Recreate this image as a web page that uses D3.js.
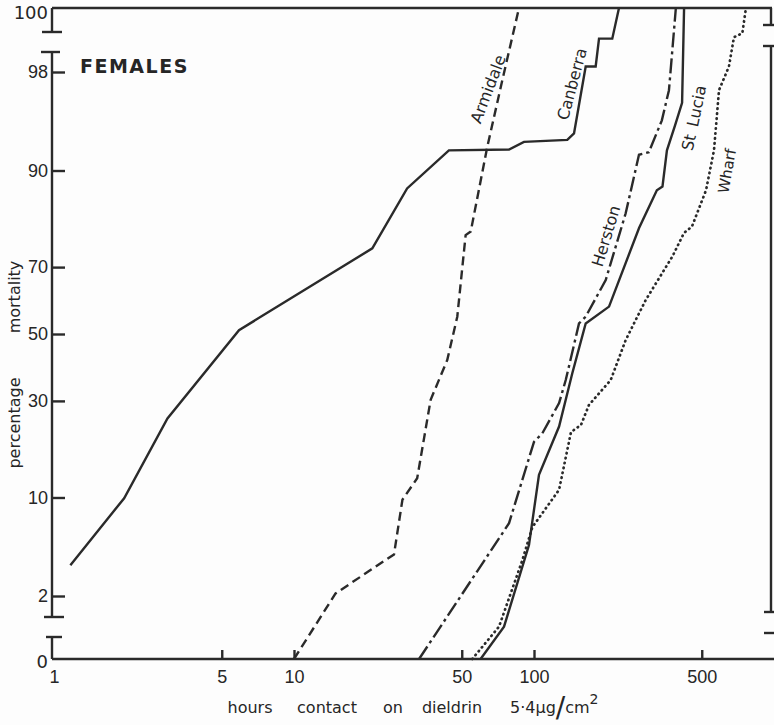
<!DOCTYPE html>
<html>
<head>
<meta charset="utf-8">
<script src="https://cdn.jsdelivr.net/npm/d3@7"></script>
<style>
  body { margin: 0; background: #fdfdfd; }
  svg { display: block; font-family: "DejaVu Sans", sans-serif; }
  .tick text { font-size: 18px; fill: #262626; }
  .tick line { stroke: #2a2a2a; stroke-width: 2.4; }
</style>
</head>
<body>
<svg id="chart" width="774" height="725"></svg>
<script>

// hours of contact vs percentage mortality
var canberra = [[1.17,3.5],[1.96,9.9],[2.97,25.4],[5.9,51.2],[21.2,74.9],[29.6,87.3],[44.2,92.5],
    [78.7,92.6],[90.8,93.4],[137.6,93.6],[146.8,94.2],[164.2,98.2],[180.7,98.2],[186.6,98.97],
    [211.9,98.97],[226,100]];
var armidale = [[10,0],[14.9,2.1],[26.1,4.2],[28.3,9.7],[32.6,12.9],[37.1,30.3],[43.5,41.9],
    [47.9,55.4],[51.9,78.1],[54.5,78.9],[63.9,92.9],[74.3,97.8],[86.6,100]];
var herston = [[33.2,0],[78.7,6.9],[100,19.9],[108.3,21.8],[127.2,29.4],[135.6,35.9],[154,53.3],
    [164.2,55.4],[199,66.4],[241,82.8],[273.8,92.0],[301,92.3],[341,95.3],[365,97.2],[376,98.6],[390,100]];
var stlucia = [[59.9,0],[75,1.09],[95.3,4.9],[104.9,13.5],[127.2,23.4],[144.4,37.9],[164.2,53.3],
    [205.4,58.5],[274,79.7],[325,87.0],[343,87.6],[358,92.5],[387,94.9],[414,96.5],[422,100]];
var wharf = [[55.3,0],[71.5,1.09],[89.4,3.8],[98.4,6.5],[127.2,11.1],[142.6,22.1],[157,23.8],
    [169.4,28.9],[208.7,35.9],[241,48.1],[292,60.5],[377,72.8],[421.7,78.6],[455,80.0],[520.8,87.0],
    [562.3,92.5],[590,97.2],[649,98.2],[681,99.0],[738,99.08],[764,100]];

var xTicks = [1, 5, 10, 50, 100, 500];
var yTicks = [2, 10, 30, 50, 70, 90, 98];

var svg = d3.select("#chart");

// inverse normal cdf (Acklam)
var probit = function(p){
    var a = [-39.6968302866538, 220.946098424521, -275.928510446969, 138.357751867269, -30.6647980661472, 2.50662827745924],
        b = [-54.4760987982241, 161.585836858041, -155.698979859887, 66.8013118877197, -13.2806815528857],
        c = [-0.00778489400243029, -0.322396458041136, -2.40075827716184, -2.54973253934373, 4.37466414146497, 2.93816398269878],
        d = [0.00778469570904146, 0.32246712907004, 2.445134137143, 3.75440866190742];
    var q, r;
    if (p < 0.02425) {
        q = Math.sqrt(-2 * Math.log(p));
        return (((((c[0]*q+c[1])*q+c[2])*q+c[3])*q+c[4])*q+c[5]) / ((((d[0]*q+d[1])*q+d[2])*q+d[3])*q+1);
    }
    if (p > 1 - 0.02425) {
        q = Math.sqrt(-2 * Math.log(1 - p));
        return -(((((c[0]*q+c[1])*q+c[2])*q+c[3])*q+c[4])*q+c[5]) / ((((d[0]*q+d[1])*q+d[2])*q+d[3])*q+1);
    }
    q = p - 0.5; r = q * q;
    return (((((a[0]*r+a[1])*r+a[2])*r+a[3])*r+a[4])*r+a[5])*q / (((((b[0]*r+b[1])*r+b[2])*r+b[3])*r+b[4])*r+1);
}

var axisX = 52, y0 = 659, y100 = 8;

var x = d3.scaleLog().domain([1, 1000]).range([54, 774]);
var z = d3.scaleLinear().domain([probit(0.02), probit(0.98)]).range([596, 72]);
var yPos = p => p <= 0 ? y0 : p >= 100 ? y100 : z(probit(p / 100));

var ink = "#2a2a2a";

// frame with the broken ends
var seg = function(x1, y1, x2, y2){
    svg.append("line").attr("x1", x1).attr("y1", y1).attr("x2", x2).attr("y2", y2)
        .attr("stroke", ink).attr("stroke-width", 2.4);
}
seg(axisX, y100, 772, y100);
seg(axisX, y100, axisX, 32);  seg(42, 32, 62, 32);
seg(41, 52, 60, 52);          seg(axisX, 52, axisX, 617);
seg(44, 617, 64, 617);        seg(46, 637, 62, 637);
seg(axisX, 637, axisX, y0);   seg(axisX, y0, 774, y0);
seg(771, y100, 771, 25);      seg(763, 25, 774, 25);
seg(763, 46, 774, 46);        seg(771, 46, 771, 612);
seg(764, 612, 774, 612);      seg(764, 633, 774, 633);

// axes
var gx = svg.append("g").attr("transform", "translate(0," + y0 + ")")
    .call(d3.axisBottom(x).tickValues(xTicks).tickFormat(d3.format("d")).tickSize(-9).tickPadding(11));
gx.select(".domain").remove();
gx.selectAll(".tick").filter(d => d == 1).select("line").remove();

var gy = svg.append("g").attr("transform", "translate(" + axisX + ",0)")
    .call(d3.axisLeft(z).tickValues(yTicks.map(p => probit(p / 100)))
        .tickFormat((d, i) => yTicks[i]).tickSize(-13).tickPadding(4));
gy.select(".domain").remove();

svg.append("text").attr("x", 48).attr("y", y0 + 3).attr("text-anchor", "end")
    .attr("dy", "0.32em").style("font-size", "18px").attr("fill", "#262626").text("0");
svg.append("text").attr("x", 48).attr("y", y100 + 5).attr("text-anchor", "end")
    .attr("dy", "0.32em").style("font-size", "18px").attr("fill", "#262626").text("100");

// series
var line = d3.line().x(d => x(d[0])).y(d => yPos(d[1]));
var series = [
    {data: canberra, dash: null},
    {data: armidale, dash: "9,5"},
    {data: herston, dash: "15,4,3,4"},
    {data: stlucia, dash: null},
    {data: wharf, dash: "0.5,4.5"}
];
svg.selectAll(".curve").data(series).enter().append("path")
    .attr("class", "curve")
    .attr("d", d => line(d.data))
    .attr("fill", "none")
    .attr("stroke", ink)
    .attr("stroke-width", d => d.data == wharf ? 2.7 : 2.4)
    .attr("stroke-linecap", d => d.data == wharf ? "round" : "butt")
    .attr("stroke-dasharray", d => d.dash);

// curve names
var names = [
    {t: "Armidale", x: 488, y: 89, a: -69, s: 16},
    {t: "Canberra", x: 572, y: 84, a: -75, s: 16},
    {t: "Herston", x: 606, y: 236, a: -73, s: 16},
    {t: "St\u2002Lucia", x: 694, y: 118, a: -78, s: 16},
    {t: "Wharf", x: 727, y: 171, a: -80, s: 15}
];
svg.selectAll(".name").data(names).enter().append("text")
    .attr("class", "name")
    .attr("transform", d => "translate(" + d.x + "," + d.y + ") rotate(" + d.a + ")")
    .attr("text-anchor", "middle")
    .attr("dy", "0.35em")
    .style("font-size", d => d.s + "px")
    .attr("fill", "#262626")
    .text(d => d.t);

svg.append("text").attr("x", 80).attr("y", 73)
    .style("font-size", "19px").style("font-weight", "bold").style("letter-spacing", "1.5px")
    .attr("fill", "#262626").text("FEMALES");

// axis titles
var yt = [{t: "percentage", c: 423}, {t: "mortality", c: 297}];
svg.selectAll(".ytitle").data(yt).enter().append("text")
    .attr("transform", d => "translate(20," + d.c + ") rotate(-90)")
    .attr("text-anchor", "middle").style("font-size", "16px").attr("fill", "#262626")
    .text(d => d.t);

var xt = [{t: "hours", c: 250}, {t: "contact", c: 327}, {t: "on", c: 393}, {t: "dieldrin", c: 452}];
svg.selectAll(".xtitle").data(xt).enter().append("text")
    .attr("x", d => d.c).attr("y", 713)
    .attr("text-anchor", "middle").style("font-size", "16px").attr("fill", "#262626")
    .text(d => d.t);

var unit = svg.append("text").attr("x", 510).attr("y", 713)
    .style("font-size", "16px").attr("fill", "#262626");
unit.append("tspan").text("5\u00b74\u00b5g");
unit.append("tspan").style("font-size", "28px").attr("dy", 4).text("/");
unit.append("tspan").attr("dy", -4).text("cm");
unit.append("tspan").attr("dy", -9).style("font-size", "14px").text("2");

</script>
</body>
</html>
